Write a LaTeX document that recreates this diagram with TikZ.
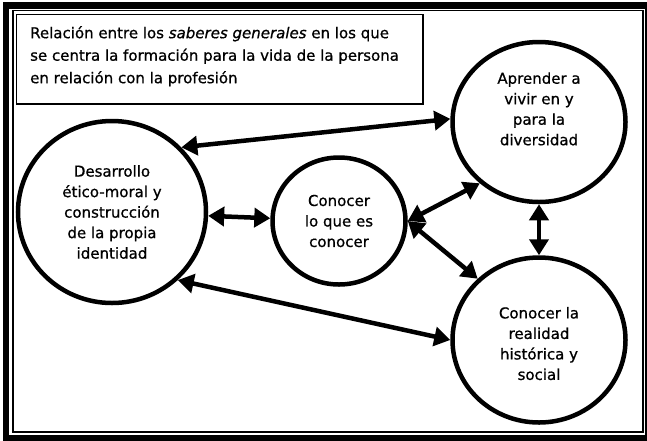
\documentclass[tikz,border=0pt]{standalone}
\usepackage{fontspec}
\setmainfont{DejaVu Sans}[FakeBold=0.8]
\usetikzlibrary{arrows.meta,shapes.geometric}
\tikzstyle{saber}=[ellipse,draw,line width=4.5pt,align=center,inner sep=0pt,font=\fontsize{15}{20.5}\selectfont]
\tikzstyle{edge}=[draw,line width=4.5pt,{Triangle[length=16pt,width=19pt]}-{Triangle[length=16pt,width=19pt]}]
\tikzstyle{marco}=[draw,line width=1.5pt]

\begin{document}
\begin{tikzpicture}[x=1pt,y=-1pt]
  \useasboundingbox (0,0) rectangle (647,440);
  % double frame round the page
  \draw[line width=6.5pt] (6,5.5) rectangle (648,438);
  \draw[marco] (13,10.5) rectangle (643,432);

  % title box
  \draw[marco] (16.5,14.5) rectangle (423,104);
  \node[anchor=north west,align=left,inner sep=0pt,font=\fontsize{15}{22.5}\selectfont] (titulo) at (30,26)
    {Relación entre los \textit{saberes generales} en los que\\ se centra la formación para la vida de la persona\\ en relación con la profesión};

  % the four circles
  \node[saber,minimum width=188pt,minimum height=182pt] (desa) at (112,212)
    {Desarrollo\\ ético-moral y\\ construcción\\ de la propia\\ identidad};
  \node[saber,minimum width=133pt,minimum height=127pt] (cono) at (339,221)
    {Conocer\\ lo que es\\ conocer};
  \node[saber,minimum width=173pt,minimum height=160pt] (apr) at (539,122)
    {Aprender a\\ vivir en y\\ para la\\ diversidad\\[6pt]};
  \node[saber,minimum width=173pt,minimum height=165pt] (soc) at (539,340)
    {\\[-2pt]Conocer la\\ realidad\\ histórica y\\ social};

  % arrows between them
  \foreach \source/\dest in {desa.43/apr.178, desa/cono, cono.east/apr.226,
                             cono.east/soc.135, apr/soc, desa.-46/soc.180}
    \path[edge] (\source) -- (\dest);
\end{tikzpicture}
\end{document}
